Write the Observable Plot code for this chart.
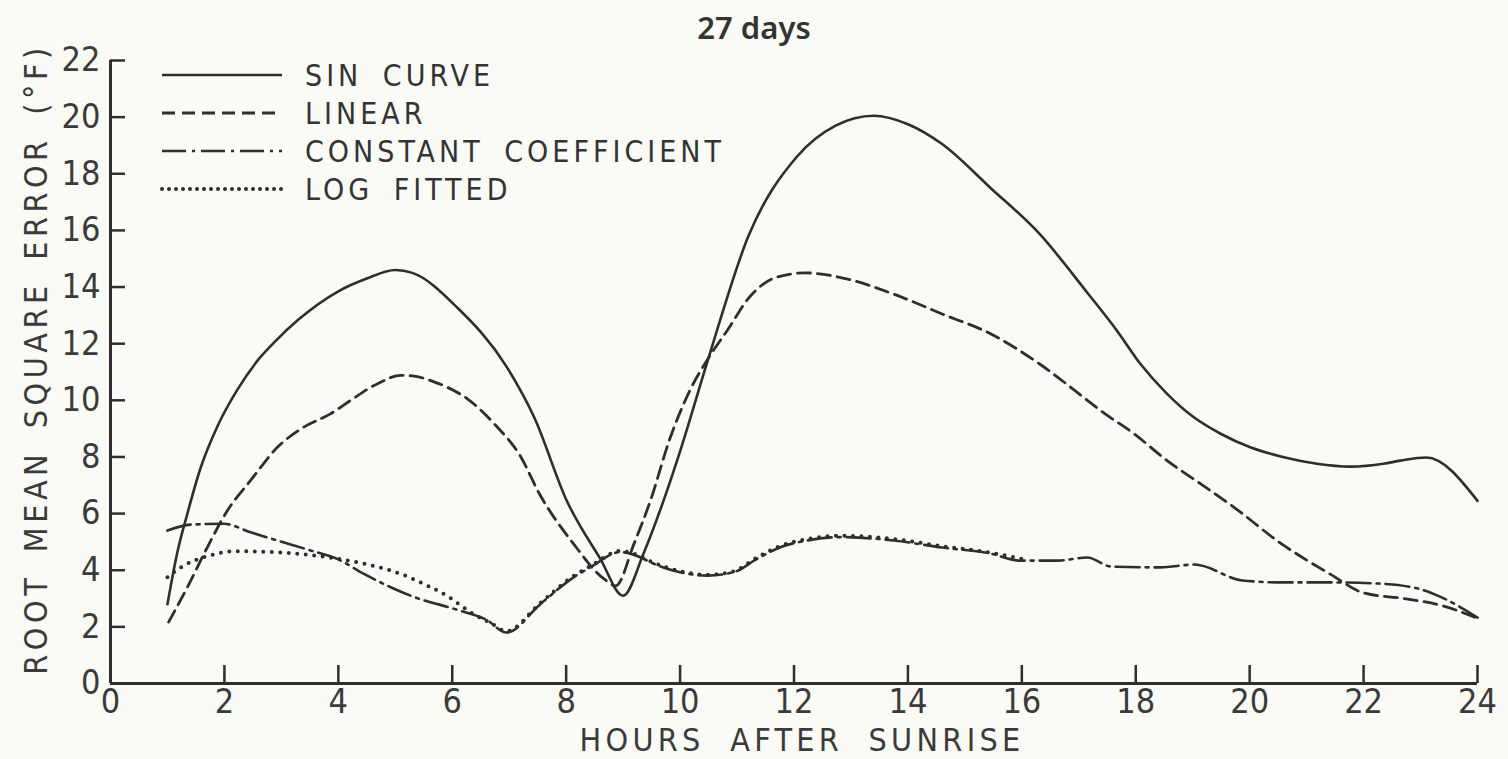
<!DOCTYPE html>
<html><head><meta charset="utf-8">
<script src="https://cdn.jsdelivr.net/npm/d3@7"></script>
<script src="https://cdn.jsdelivr.net/npm/@observablehq/plot@0.6"></script>
<style>
body{margin:0;background:#fafaf6;}
#wrap{position:relative;width:1508px;height:759px;overflow:hidden;}
#title{position:absolute;left:0;width:1508px;top:6px;text-align:center;font:600 31px "Noto Sans";color:#333;line-height:42px;}
#legend{position:absolute;left:160px;top:56px;}
.row{display:flex;align-items:center;height:38px;}
.row span{font:30px "DejaVu Sans Condensed";letter-spacing:4px;word-spacing:8px;color:#333;margin-left:21px;}
</style></head>
<body><div id="wrap"><div id="title"></div><div id="legend"></div></div>
<script>
const title = "27 days";
const xLabel = "HOURS AFTER SUNRISE";
const yLabel = "ROOT MEAN SQUARE ERROR (°F)";
const xTicks = [0,2,4,6,8,10,12,14,16,18,20,22,24];
const yTicks = [0,2,4,6,8,10,12,14,16,18,20,22];
const seriesNames = ["SIN CURVE","LINEAR","CONSTANT COEFFICIENT","LOG FITTED"];

const sinX = [1.0,1.17,1.35,1.58,1.87,2.22,2.58,2.9,3.3,4.0,4.5,5.0,5.3,6.1,6.95,7.45,8.0,8.6,9.0,9.36,9.71,10.0,10.5,11.2,12.05,12.73,13.4,14.0,14.6,15.45,16.3,17.15,17.67,18.08,18.55,19.02,19.49,20.01,20.6,21.18,21.77,22.35,22.65,23.1,24.0];
const sinY = [2.8,4.6,6.0,7.6,9.05,10.35,11.4,12.1,12.85,13.85,14.3,14.6,14.5,13.25,11.2,9.35,6.5,4.4,3.1,4.6,6.46,8.2,11.5,15.8,18.6,19.7,20.05,19.75,19.05,17.5,15.9,13.8,12.46,11.29,10.23,9.4,8.82,8.34,7.99,7.76,7.66,7.76,7.87,7.98,6.45];

const linX = [1.02,1.35,1.7,2.05,2.46,2.93,3.39,3.86,4.21,4.68,5.1,5.3,5.75,6.26,6.77,7.19,7.53,8.13,8.66,8.87,9.19,9.48,9.82,10.16,10.5,10.84,11.2,11.7,12.2,12.9,13.75,14.6,15.45,16.3,17.15,17.38,17.97,18.55,19.14,19.72,20.56,21.4,22.0,22.7,23.36,24.0];
const linY = [2.17,3.4,4.81,6.1,7.17,8.34,9.05,9.52,9.99,10.58,10.88,10.86,10.6,10.06,9.1,8.05,6.7,4.93,3.7,3.45,4.93,6.46,8.64,10.3,11.5,12.5,13.6,14.35,14.5,14.3,13.75,13.05,12.35,11.3,10.0,9.64,8.82,7.87,7.05,6.23,4.93,3.88,3.2,3.0,2.76,2.3];

const conX = [1.0,1.4,1.99,2.46,2.93,3.51,3.98,4.45,4.92,5.27,6.09,6.6,6.95,7.55,8.13,8.43,8.95,9.3,9.48,10.0,10.48,10.94,11.35,11.76,12.23,12.82,13.75,14.6,15.45,15.96,16.64,17.15,17.57,18.43,19.03,19.87,20.56,21.42,22.26,22.94,23.37,24.0];
const conY = [5.4,5.61,5.64,5.34,5.05,4.7,4.4,3.87,3.4,3.1,2.6,2.25,1.8,2.81,3.75,4.11,4.64,4.46,4.28,3.93,3.81,3.93,4.4,4.81,5.05,5.17,5.05,4.8,4.59,4.34,4.34,4.45,4.13,4.1,4.2,3.64,3.57,3.57,3.53,3.36,3.04,2.33];

const logX = [1.0,1.29,1.64,2.22,2.93,3.75,4.33,4.92,5.27,5.41,5.92,6.34,6.68,6.95,7.55,8.13,8.43,8.95,9.3,9.48,10.0,10.48,10.94,11.35,11.76,12.23,12.82,13.75,14.6,15.45,16.0];
const logY = [3.75,4.17,4.46,4.67,4.63,4.48,4.28,3.99,3.73,3.6,3.08,2.49,2.13,1.85,2.85,3.8,4.15,4.68,4.5,4.32,3.97,3.84,3.96,4.45,4.86,5.1,5.22,5.1,4.85,4.62,4.4];

const ink = "#2e2e2e";
const styles = [
  {strokeWidth:2.6},
  {strokeWidth:2.8, strokeDasharray:"13,7"},
  {strokeWidth:2.6, strokeDasharray:"24,6,3,6"},
  {strokeWidth:4, strokeDasharray:"0,8.5", strokeLinecap:"round"}
];
const toRows = (xs, ys) => xs.map((x,i)=>({x, y:ys[i]}));
const series = [toRows(sinX,sinY), toRows(linX,linY), toRows(conX,conY), toRows(logX,logY)];

document.getElementById("title").textContent = title;

const chart = Plot.plot({
  width:1508, height:759, marginLeft:110, marginRight:31, marginTop:60, marginBottom:76,
  x:{domain:[0,24], axis:null}, y:{domain:[0,22], axis:null},
  style:{background:"transparent", color:ink, fontFamily:"DejaVu Sans Condensed"},
  marks:[
    ...series.map((d,i)=>Plot.line(d, {x:"x", y:"y", stroke:ink, curve:"monotone-x", ...styles[i]})),
    Plot.ruleY([0], {stroke:ink, strokeWidth:3}),
    Plot.ruleX([0], {stroke:ink, strokeWidth:3}),
    Plot.ruleX(xTicks.filter(d=>d>0), {x:d=>d, y1:0, y2:0, insetTop:-18, stroke:ink, strokeWidth:2.5}),
    Plot.ruleY(yTicks.filter(d=>d>0), {y:d=>d, x1:0, x2:0, insetRight:-15, stroke:ink, strokeWidth:2.5}),
    Plot.text(xTicks, {x:d=>d, y:0, dy:19, lineAnchor:"middle", fontSize:34, fill:"#3a3a3a"}),
    Plot.text(yTicks, {x:0, y:d=>d, dx:-10, textAnchor:"end", lineAnchor:"middle", fontSize:34, fill:"#3a3a3a"}),
    Plot.text([xLabel], {frameAnchor:"bottom", dx:8, dy:57, lineAnchor:"middle", fontSize:32, fill:"#3a3a3a"}),
    Plot.text([yLabel], {frameAnchor:"left", textAnchor:"middle", rotate:-90, dx:-74, dy:-13, lineAnchor:"middle", fontSize:32, fill:"#3a3a3a"})
  ]
});
d3.select(chart).selectAll("text").each(function(){
  const t = this.textContent;
  if (t === xLabel) d3.select(this).style("letter-spacing","4.3px").style("word-spacing","12px");
  if (t === yLabel) d3.select(this).style("letter-spacing","4.5px").style("word-spacing","8px");
});
const wrap = document.getElementById("wrap");
wrap.insertBefore(chart, wrap.firstChild);
chart.style.position = "absolute"; chart.style.left = "0"; chart.style.top = "0";

const legend = d3.select("#legend");
seriesNames.forEach((name,i)=>{
  const row = legend.append("div").attr("class","row");
  const s = row.append("svg").attr("width",124).attr("height",10);
  s.append("line").attr("x1",2).attr("x2",122).attr("y1",5).attr("y2",5)
    .attr("stroke",ink).attr("stroke-width",styles[i].strokeWidth)
    .attr("stroke-dasharray",i===3?"0,7":(styles[i].strokeDasharray||null))
    .attr("stroke-linecap",styles[i].strokeLinecap||null);
  row.append("span").text(name);
});
</script></body></html>
